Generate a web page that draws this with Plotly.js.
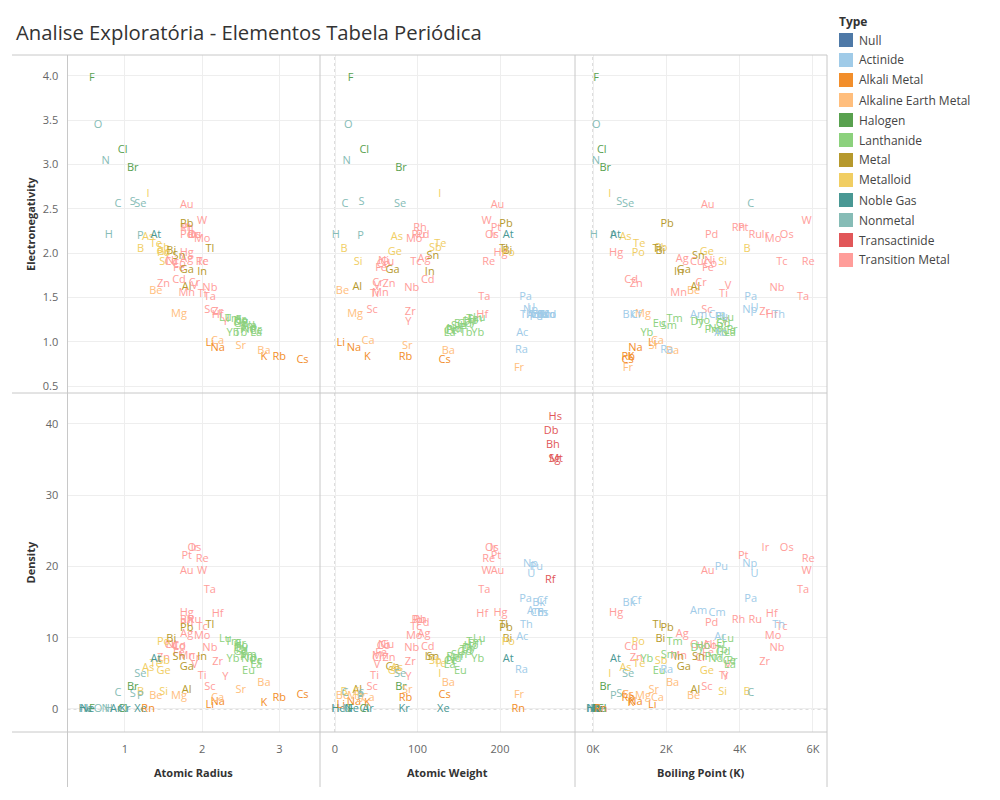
<!DOCTYPE html>
<html>
<head>
<meta charset="utf-8">
<script src="https://cdn.plot.ly/plotly-3.0.1.min.js"></script>
<style>
  body { margin: 0; background: #fff; }
  #chart { width: 1000px; height: 800px; }
</style>
</head>
<body>
<div id="chart"></div>
<script>
// elements, in atomic number order (H .. Mt)
const symbols = [
  'H','He','Li','Be','B','C','N','O','F','Ne',
  'Na','Mg','Al','Si','P','S','Cl','Ar','K','Ca',
  'Sc','Ti','V','Cr','Mn','Fe','Co','Ni','Cu','Zn',
  'Ga','Ge','As','Se','Br','Kr','Rb','Sr','Y','Zr',
  'Nb','Mo','Tc','Ru','Rh','Pd','Ag','Cd','In','Sn',
  'Sb','Te','I','Xe','Cs','Ba','La','Ce','Pr','Nd',
  'Pm','Sm','Eu','Gd','Tb','Dy','Ho','Er','Tm','Yb',
  'Lu','Hf','Ta','W','Re','Os','Ir','Pt','Au','Hg',
  'Tl','Pb','Bi','Po','At','Rn','Fr','Ra','Ac','Th',
  'Pa','U','Np','Pu','Am','Cm','Bk','Cf','Es','Fm',
  'Md','No','Lr','Rf','Db','Sg','Bh','Hs','Mt'
];

const NM = 'Nonmetal', NG = 'Noble Gas', AM = 'Alkali Metal', AE = 'Alkaline Earth Metal';
const ML = 'Metalloid', HA = 'Halogen', MT = 'Metal', TM = 'Transition Metal';
const LA = 'Lanthanide', AC = 'Actinide', TA = 'Transactinide';

const types = [
  NM,NG,AM,AE,ML,NM,NM,NM,HA,NG,
  AM,AE,MT,ML,NM,NM,HA,NG,AM,AE,
  TM,TM,TM,TM,TM,TM,TM,TM,TM,TM,
  MT,ML,ML,NM,HA,NG,AM,AE,TM,TM,
  TM,TM,TM,TM,TM,TM,TM,TM,MT,MT,
  ML,ML,ML,NG,AM,AE,LA,LA,LA,LA,
  LA,LA,LA,LA,LA,LA,LA,LA,LA,LA,
  LA,TM,TM,TM,TM,TM,TM,TM,TM,TM,
  MT,MT,MT,ML,NG,AM,AE,AC,AC,AC,
  AC,AC,AC,AC,AC,AC,AC,AC,AC,AC,
  AC,AC,AC,TA,TA,TA,TA,TA,TA
];

const atomicRadius = [
  0.79, 0.49, 2.1, 1.4, 1.2, 0.91, 0.75, 0.65, 0.57, 0.51,
  2.2, 1.7, 1.8, 1.5, 1.2, 1.1, 0.97, 0.88, 2.8, 2.2,
  2.1, 2.0, 1.9, 1.9, 1.8, 1.7, 1.7, 1.6, 1.6, 1.5,
  1.8, 1.5, 1.3, 1.2, 1.1, 1.0, 3.0, 2.5, 2.3, 2.2,
  2.1, 2.0, 2.0, 1.9, 1.8, 1.8, 1.8, 1.7, 2.0, 1.7,
  1.5, 1.4, 1.3, 1.2, 3.3, 2.8, 2.7, 2.7, 2.7, 2.6,
  2.6, 2.6, 2.6, 2.5, 2.5, 2.5, 2.5, 2.5, 2.4, 2.4,
  2.3, 2.2, 2.1, 2.0, 2.0, 1.9, 1.9, 1.8, 1.8, 1.8,
  2.1, 1.8, 1.6, 1.5, 1.4, 1.3, null, null, null, null,
  null, null, null, null, null, null, null, null, null, null,
  null, null, null, null, null, null, null, null, null
];

const atomicWeight = [
  1.007, 4.002, 6.941, 9.012, 10.811, 12.011, 14.007, 15.999, 18.998, 20.18,
  22.99, 24.305, 26.982, 28.086, 30.974, 32.065, 35.453, 39.948, 39.098, 40.078,
  44.956, 47.867, 50.942, 51.996, 54.938, 55.845, 58.933, 58.693, 63.546, 65.38,
  69.723, 72.64, 74.922, 78.96, 79.904, 83.798, 85.468, 87.62, 88.906, 91.224,
  92.906, 95.96, 98, 101.07, 102.906, 106.42, 107.868, 112.411, 114.818, 118.71,
  121.76, 127.6, 126.904, 131.293, 132.905, 137.327, 138.905, 140.116, 140.908, 144.242,
  145, 150.36, 151.964, 157.25, 158.925, 162.5, 164.93, 167.259, 168.934, 173.054,
  174.967, 178.49, 180.948, 183.84, 186.207, 190.23, 192.217, 195.084, 196.967, 200.59,
  204.383, 207.2, 208.98, 210, 210, 222, 223, 226, 227, 232.038,
  231.036, 238.029, 237, 244, 243, 247, 247, 251, 252, 257,
  258, 259, 262, 261, 262, 266, 264, 267, 268
];

const boilingPoint = [
  20.28, 4.22, 1615, 2742, 4200, 4300, 77.36, 90.2, 85.03, 27.07,
  1156, 1363, 2792, 3538, 553, 717.8, 239.11, 87.3, 1032, 1757,
  3109, 3560, 3680, 2944, 2334, 3134, 3200, 3186, 2835, 1180,
  2477, 3106, 887, 958, 332, 119.93, 961, 1655, 3609, 4682,
  5017, 4912, 5150, 4423, 3968, 3236, 2435, 1040, 2345, 2875,
  1860, 1261, 457.4, 165.03, 944, 2170, 3737, 3716, 3793, 3347,
  3273, 2067, 1802, 3546, 3503, 2840, 2993, 3503, 2223, 1469,
  3675, 4876, 5731, 5828, 5869, 5285, 4701, 4098, 3129, 629.88,
  1746, 2022, 1837, 1235, 610, 211.3, 950, 2010, 3471, 5061,
  4300, 4404, 4273, 3501, 2880, 3383, 983, 1173, null, null,
  null, null, null, null, null, null, null, null, null
];

const electronegativity = [
  2.2, null, 0.98, 1.57, 2.04, 2.55, 3.04, 3.44, 3.98, null,
  0.93, 1.31, 1.61, 1.9, 2.19, 2.58, 3.16, null, 0.82, 1.0,
  1.36, 1.54, 1.63, 1.66, 1.55, 1.83, 1.88, 1.91, 1.9, 1.65,
  1.81, 2.01, 2.18, 2.55, 2.96, null, 0.82, 0.95, 1.22, 1.33,
  1.6, 2.16, 1.9, 2.2, 2.28, 2.2, 1.93, 1.69, 1.78, 1.96,
  2.05, 2.1, 2.66, null, 0.79, 0.89, 1.1, 1.12, 1.13, 1.14,
  1.13, 1.17, 1.2, 1.2, 1.1, 1.22, 1.23, 1.24, 1.25, 1.1,
  1.27, 1.3, 1.5, 2.36, 1.9, 2.2, 2.2, 2.28, 2.54, 2.0,
  2.04, 2.33, 2.02, 2.0, 2.2, null, 0.7, 0.9, 1.1, 1.3,
  1.5, 1.38, 1.36, 1.28, 1.3, 1.3, 1.3, 1.3, 1.3, 1.3,
  1.3, 1.3, null, null, null, null, null, null, null
];

const density = [
  0.0000899, 0.000179, 0.534, 1.85, 2.34, 2.27, 0.00125, 0.00143, 0.0017, 0.0009,
  0.971, 1.74, 2.7, 2.33, 1.82, 2.07, 0.00321, 0.00178, 0.862, 1.54,
  2.99, 4.54, 6.11, 7.15, 7.44, 7.87, 8.86, 8.91, 8.96, 7.13,
  5.91, 5.32, 5.78, 4.81, 3.12, 0.00375, 1.53, 2.64, 4.47, 6.51,
  8.57, 10.2, 11.5, 12.4, 12.4, 12.0, 10.5, 8.69, 7.31, 7.29,
  6.69, 6.23, 4.93, 0.00589, 1.87, 3.59, 6.15, 6.77, 6.77, 7.01,
  7.26, 7.52, 5.24, 7.9, 8.23, 8.55, 8.8, 9.07, 9.32, 6.97,
  9.84, 13.3, 16.7, 19.3, 21.0, 22.6, 22.6, 21.5, 19.3, 13.5,
  11.8, 11.3, 9.78, 9.32, 7.0, 0.00973, 1.87, 5.5, 10.07, 11.72,
  15.37, 18.95, 20.25, 19.84, 13.67, 13.5, 14.78, 15.1, 13.5, null,
  null, null, null, 18.1, 39, 35, 37, 41, 35
];

// legend order and colours
const typeNames = ['Null', 'Actinide', 'Alkali Metal', 'Alkaline Earth Metal', 'Halogen', 'Lanthanide',
  'Metal', 'Metalloid', 'Noble Gas', 'Nonmetal', 'Transactinide', 'Transition Metal'];
const typeColors = ['#4e79a7', '#a0cbe8', '#f28e2b', '#ffbe7d', '#59a14f', '#8cd17d',
  '#b6992d', '#f1ce63', '#499894', '#86bcb6', '#e15759', '#ff9d9a'];

const FONT = '"Open Sans", Lato, sans-serif';
const BORDER = '#c8c8c8';
const GRID = '#eeeeee';

// pixel -> paper helpers (margins are zero, paper == page)
const px = v => v / 1000;
const py = v => 1 - v / 800;

const colX = [67.5, 320, 575, 827];
const rowY = [55, 393, 732];

function panelTrace(xs, ys, xa, ya) {
  const x = [], y = [], text = [], colors = [];
  for (let i = 0; i < symbols.length; i++) {
    if (xs[i] == null || ys[i] == null) continue;
    x.push(xs[i]);
    y.push(ys[i]);
    text.push(symbols[i]);
    colors.push(typeColors[typeNames.indexOf(types[i])]);
  }
  return {
    type: 'scatter', mode: 'text',
    x: x, y: y, text: text,
    textposition: 'middle center',
    textfont: { family: FONT, size: 11, color: colors },
    xaxis: xa, yaxis: ya,
    hoverinfo: 'text', showlegend: false
  };
}

const data = [
  panelTrace(atomicRadius, electronegativity, 'x', 'y'),
  panelTrace(atomicWeight, electronegativity, 'x2', 'y'),
  panelTrace(boilingPoint, electronegativity, 'x3', 'y'),
  panelTrace(atomicRadius, density, 'x', 'y2'),
  panelTrace(atomicWeight, density, 'x2', 'y2'),
  panelTrace(boilingPoint, density, 'x3', 'y2')
];

const tickFont = { family: FONT, size: 11, color: '#666' };
const baseAxis = {
  showline: false, zeroline: false, showgrid: true, gridcolor: GRID, gridwidth: 1,
  ticks: 'outside', tickcolor: 'rgba(0,0,0,0)', tickfont: tickFont, fixedrange: true
};

function xAxis(col, range, extra) {
  return Object.assign({}, baseAxis, {
    domain: [px(colX[col]), px(colX[col + 1])], range: range, anchor: 'y2', ticklen: 7
  }, extra);
}
function yAxis(row, range, extra) {
  return Object.assign({}, baseAxis, {
    domain: [py(rowY[row + 1]), py(rowY[row])], range: range, anchor: 'x', ticklen: 6
  }, extra);
}

const shapes = [];
function line(x0, y0, x1, y1, color, dash) {
  shapes.push({
    type: 'line', xref: 'paper', yref: 'paper',
    x0: px(x0), y0: py(y0), x1: px(x1), y1: py(y1),
    line: { color: color, width: 1, dash: dash || 'solid' }
  });
}
// panel frame
rowY.forEach(y => line(12, y, colX[3], y, BORDER));
colX.forEach(x => line(x, rowY[0], x, 787, BORDER));

// dotted zero lines, placed through the axes
['x2', 'x3'].forEach(xa => shapes.push({
  type: 'line', xref: xa, yref: 'paper', x0: 0, x1: 0, y0: py(rowY[2]), y1: py(rowY[0]),
  line: { color: '#bbbbbb', width: 1, dash: 'dot' }, layer: 'below'
}));
shapes.push({
  type: 'line', xref: 'paper', yref: 'y2', x0: px(colX[0]), x1: px(colX[3]), y0: 0, y1: 0,
  line: { color: '#bbbbbb', width: 1, dash: 'dot' }, layer: 'below'
});

const annotations = [];
const axisTitleFont = { family: FONT, size: 11, color: '#333' };
const xTitles = ['Atomic Radius', 'Atomic Weight', 'Boiling Point (K)'];
xTitles.forEach((t, i) => annotations.push({
  text: '<b>' + t + '</b>', xref: 'paper', yref: 'paper',
  x: px((colX[i] + colX[i + 1]) / 2), y: py(772), showarrow: false,
  xanchor: 'center', yanchor: 'middle', font: axisTitleFont
}));
const yTitles = ['Electronegativity', 'Density'];
yTitles.forEach((t, i) => annotations.push({
  text: '<b>' + t + '</b>', xref: 'paper', yref: 'paper',
  x: px(30), y: py((rowY[i] + rowY[i + 1]) / 2), showarrow: false, textangle: -90,
  xanchor: 'center', yanchor: 'middle', font: axisTitleFont
}));

// legend drawn by hand so the squares match
annotations.push({
  text: '<b>Type</b>', xref: 'paper', yref: 'paper', x: px(837), y: py(22),
  xanchor: 'left', yanchor: 'middle', showarrow: false,
  font: { family: FONT, size: 12, color: '#333' }
});
typeNames.forEach((name, i) => {
  const cy = 40 + i * 20;
  shapes.push({
    type: 'rect', xref: 'paper', yref: 'paper',
    x0: px(839), x1: px(853), y0: py(cy - 7), y1: py(cy + 7),
    fillcolor: typeColors[i], line: { width: 0 }
  });
  annotations.push({
    text: name, xref: 'paper', yref: 'paper', x: px(857), y: py(cy),
    xanchor: 'left', yanchor: 'middle', showarrow: false,
    font: { family: FONT, size: 12, color: '#444' }
  });
});

const layout = {
  width: 1000, height: 800,
  margin: { l: 0, r: 0, t: 0, b: 0 },
  paper_bgcolor: '#fff', plot_bgcolor: 'rgba(0,0,0,0)',
  showlegend: false,
  font: { family: FONT, color: '#666' },
  title: {
    text: 'Analise Exploratória - Elementos Tabela Periódica',
    x: px(16), xanchor: 'left', y: py(33), yanchor: 'middle',
    font: { family: FONT, size: 20.3, color: '#333' }
  },
  xaxis: xAxis(0, [0.255, 3.527], { tickvals: [1, 2, 3] }),
  xaxis2: xAxis(1, [-18.2, 290.9], { tickvals: [0, 100, 200] }),
  xaxis3: xAxis(2, [-491, 6382], { tickvals: [0, 2000, 4000, 6000], ticktext: ['0K', '2K', '4K', '6K'] }),
  yaxis: yAxis(0, [0.421, 4.237], { tickvals: [0.5, 1, 1.5, 2, 2.5, 3, 3.5, 4], tickformat: '.1f' }),
  yaxis2: yAxis(1, [-3.23, 44.35], { tickvals: [0, 10, 20, 30, 40] }),
  shapes: shapes,
  annotations: annotations
};

Plotly.newPlot('chart', data, layout, { displayModeBar: false, staticPlot: true });
</script>
</body>
</html>
